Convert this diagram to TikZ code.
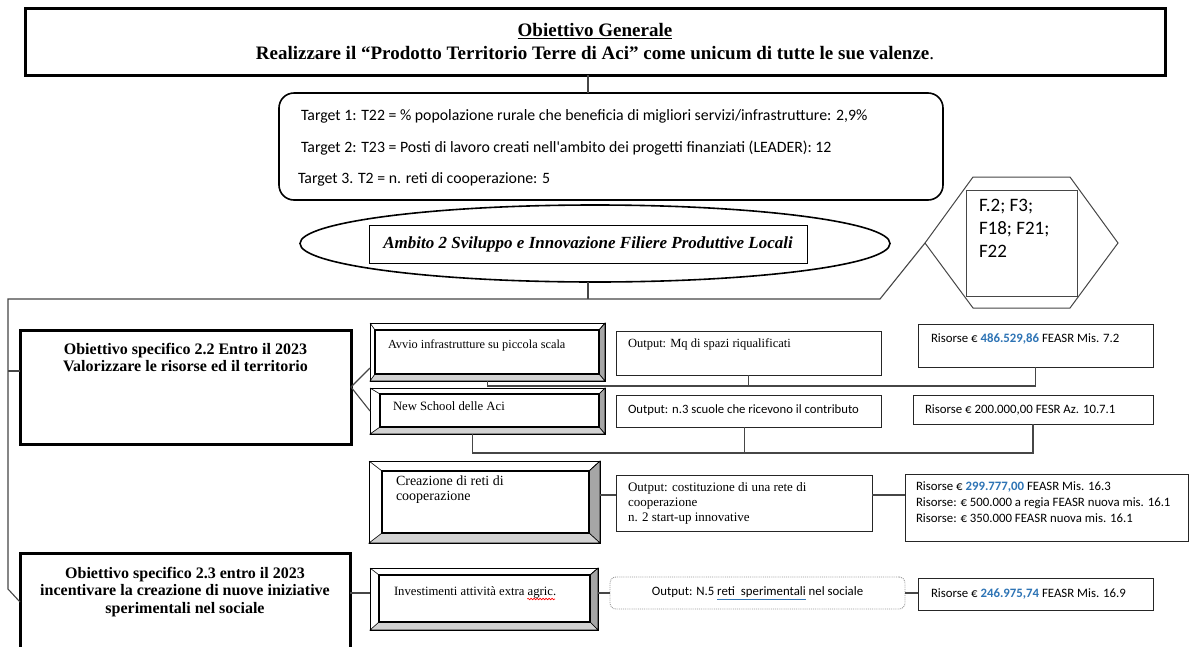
\documentclass[tikz,border=0pt]{standalone}
\usepackage{fontspec}
\setmainfont{Liberation Serif}
\newfontfamily\calibri{Carlito}[Ligatures=TeXOff]
\usetikzlibrary{shapes.geometric,decorations.pathmorphing}

\definecolor{accblue}{RGB}{46,116,181}
\definecolor{linegray}{RGB}{70,70,70}

\tikzset{
  every node/.style={outer sep=0pt},
  mainbox/.style={draw=black, line width=3pt, fill=white, inner sep=0pt},
  thinbox/.style={draw=black!85, line width=1pt, fill=white, inner sep=0pt},
  bevelbox/.style={draw=black, line width=1pt, fill=white, inner sep=0pt},
  link/.style={draw=linegray, line width=1.1pt},
  tms/.style={font=\fontsize{12.5}{15}\selectfont, inner sep=0pt, anchor=west, align=left},
  cal/.style={font=\calibri\fontsize{12.8}{16}\selectfont, inner sep=0pt, anchor=west, align=left},
  obtext/.style={font=\bfseries\fontsize{16}{17.5}\selectfont, inner sep=0pt, anchor=north, align=center},
}

% bevel faces of a box: node, left, top, right, bottom
\newcommand{\bevel}[5]{%
  \coordinate (#1-a) at ([xshift=#2,yshift=-#3]#1.north west);
  \coordinate (#1-b) at ([xshift=-#4,yshift=-#3]#1.north east);
  \coordinate (#1-c) at ([xshift=-#4,yshift=#5]#1.south east);
  \coordinate (#1-d) at ([xshift=#2,yshift=#5]#1.south west);
  \filldraw[fill=gray!70, line width=0.6pt] (#1.north east) -- (#1.south east) -- (#1-c) -- (#1-b) -- cycle;
  \filldraw[fill=gray!35, line width=0.6pt] (#1.south west) -- (#1.south east) -- (#1-c) -- (#1-d) -- cycle;
  \draw[line width=0.6pt] (#1.north west) -- (#1-a) (#1.north east) -- (#1-b);
  \draw[line width=1.8pt] (#1-a) rectangle (#1-c);
  \draw[line width=1pt] (#1.north west) rectangle (#1.south east);
}

\begin{document}
\begin{tikzpicture}[x=1pt,y=-1pt]
  \useasboundingbox (0,0) rectangle (1192,646);
  \fill[white] (0,0) rectangle (1192,646);

  % Obiettivo generale
  \node[mainbox, minimum width=1140pt, minimum height=67pt, align=center,
        font=\bfseries\fontsize{19}{23}\selectfont] (goal) at (595,41.5)
    {\underline{Obiettivo Generale}\\Realizzare il “Prodotto Territorio Terre di Aci” come unicum di tutte le sue valenze{\mdseries .}};

  %% Target
  \node[draw, line width=1.6pt, rounded corners=15pt, minimum width=664pt, minimum height=107pt] (tgt) at (611,146.5) {};
  \node[cal, font=\calibri\fontsize{15.8}{18}\selectfont] (tgt1) at (301,116) {Target 1: T22 = \% popolazione rurale che beneficia di migliori servizi/infrastrutture: 2,9\%};
  \node[cal, font=\calibri\fontsize{15.8}{18}\selectfont] (tgt2) at (301,148) {Target 2: T23 = Posti di lavoro creati nell'ambito dei progetti finanziati (LEADER): 12};
  \node[cal, font=\calibri\fontsize{15.8}{18}\selectfont] (tgt3) at (298,179) {Target 3. T2 = n. reti di cooperazione: 5};

  %% Ambito
  \node[draw, ellipse, line width=1.6pt, minimum width=590pt, minimum height=77pt] (amb) at (595,243.5) {};
  \node[draw, line width=0.8pt, minimum width=438pt, minimum height=38pt,
        font=\bfseries\itshape\fontsize{17}{18}\selectfont] (ambito) at (588,244)
    {Ambito 2 Sviluppo e Innovazione Filiere Produttive Locali};

  %% Fabbisogni
  \coordinate (hexW) at (925,243);
  \draw[linegray, line width=1pt] (hexW) -- (973,177) -- (1070,177) -- (1118,243) -- (1070,308) -- (973,308) -- cycle;
  \node[draw=linegray, line width=1pt, fill=white, minimum width=111pt, minimum height=106pt] (fbox) at (1021.5,243) {};
  \node[cal, anchor=north west, font=\calibri\fontsize{19}{23}\selectfont] (ftext) at (979,199) {F.2; F3;\\F18; F21;\\F22};

  % Obiettivi specifici
  \node[mainbox, minimum width=331pt, minimum height=114pt] (ob22) at (185.5,387) {};
  \node[obtext] (ob22t) at (185.5,343) {Obiettivo specifico 2.2 Entro il 2023\\Valorizzare le risorse ed il territorio};
  \node[mainbox, minimum width=330pt, minimum height=107pt] (ob23) at (185,606.5) {};
  \node[obtext] (ob23t) at (185,567) {Obiettivo specifico 2.3 entro il 2023\\incentivare la creazione di nuove iniziative\\sperimentali nel sociale};

  %% Azioni
  \node[bevelbox, minimum width=235pt, minimum height=58pt] (avvio) at (487.5,352) {};
  \bevel{avvio}{5pt}{7pt}{6pt}{7pt}
  \node[tms, font=\fontsize{12.3}{14}\selectfont] (avvioT) at (388,345) {Avvio infrastrutture su piccola scala};

  \node[bevelbox, minimum width=235pt, minimum height=46pt] (school) at (487.5,411) {};
  \bevel{school}{10pt}{6pt}{6pt}{7pt}
  \node[tms, font=\fontsize{12.7}{14}\selectfont] (schoolT) at (393,406) {New School delle Aci};

  \node[bevelbox, minimum width=231pt, minimum height=82pt] (creaz) at (484.5,502) {};
  \bevel{creaz}{13pt}{10pt}{11pt}{10pt}
  \node[tms, anchor=north west, font=\fontsize{14}{15}\selectfont] (creazT) at (396,476) {Creazione di reti di\\cooperazione};

  \node[bevelbox, minimum width=228pt, minimum height=62pt] (invest) at (484,599) {};
  \bevel{invest}{9pt}{7pt}{8pt}{8pt}
  \node[tms, font=\fontsize{12.7}{14}\selectfont] (investT) at (394,592) {Investimenti attività extra agric.};
  \draw[red, line width=0.6pt, decorate, decoration={snake, amplitude=0.8pt, segment length=3pt}]
    ([xshift=-29pt,yshift=-7pt]investT.east) -- ([xshift=-1pt,yshift=-7pt]investT.east);

  %% Output
  \node[thinbox, minimum width=265pt, minimum height=44pt] (out1) at (748.5,353) {};
  \node[tms] (out1T) at (628,344) {Output: Mq di spazi riqualificati};
  \node[thinbox, minimum width=265pt, minimum height=32pt] (out2) at (748.5,411) {};
  \node[cal, font=\calibri\fontsize{12.7}{14}\selectfont] (out2T) at (628,410) {Output: n.3 scuole che ricevono il contributo};
  \node[thinbox, minimum width=256pt, minimum height=56pt] (out3) at (744,503) {};
  \node[tms, anchor=north west, font=\fontsize{13}{15}\selectfont] (out3T) at (628,482) {Output: costituzione di una rete di\\cooperazione\\n. 2 start-up innovative};
  \node[draw=gray!80, densely dotted, line width=0.9pt, rounded corners=6pt, minimum width=295pt, minimum height=32pt,
        font=\calibri\fontsize{12.8}{14}\selectfont] (out4) at (757.5,593)
    {Output: N.5 {\color{accblue}\underline{\color{black}reti\hspace{6pt}sperimentali}} nel sociale};

  %% Risorse
  \node[thinbox, minimum width=235pt, minimum height=43pt] (ris1) at (1035.5,345.5) {};
  \node[cal] (ris1T) at (931,339) {Risorse € \textcolor{accblue}{\bfseries 486.529,86} FEASR Mis. 7.2};
  \node[thinbox, minimum width=240pt, minimum height=29pt] (ris2) at (1033,409.5) {};
  \node[cal] (ris2T) at (925,410) {Risorse € 200.000,00 FESR Az. 10.7.1};
  \node[thinbox, minimum width=283pt, minimum height=67pt] (ris3) at (1046.5,507.5) {};
  \node[cal, anchor=north west, font=\calibri\fontsize{12.8}{16}\selectfont] (ris3T) at (916,482)
    {Risorse € \textcolor{accblue}{\bfseries 299.777,00} FEASR Mis. 16.3\\Risorse: € 500.000 a regia FEASR nuova mis. 16.1\\Risorse: € 350.000 FEASR nuova mis. 16.1};
  \node[thinbox, minimum width=235pt, minimum height=32pt] (ris4) at (1035.5,594) {};
  \node[cal] (ris4T) at (931,594) {Risorse € \textcolor{accblue}{\bfseries 246.975,74} FEASR Mis. 16.9};

  % Collegamenti
  \draw[link] (goal.south -| ambito) -- (tgt.north -| ambito);
  \coordinate (busR) at (880,299);
  \coordinate (busL) at (8,299);
  \coordinate (kink) at (8,589);
  \draw[link] (ambito |- amb.south) -- (ambito |- busL);
  \draw[link] (hexW) -- (busR) -- (busL) -- (kink) -- ([yshift=-49pt]ob23.north west);
  \draw[link] ([yshift=16pt]ob22.west) -- ++(-12,0);
  \draw[link] (ob22.east) -- ([yshift=-16pt]avvio.west);
  \draw[link] (ob22.east) -- (school.west);

  \coordinate (row1) at (0,386);
  \coordinate (row2) at (0,453);
  \coordinate (row3) at (0,495);
  \coordinate (row4) at (0,593);
  \draw[link] (avvio.south) |- (row1 -| ris1.south) -- (ris1.south);
  \draw[link] (out1.south) -- (out1.south |- row1);
  \draw[link] ([xshift=-15pt]school.south) |- (row2 -| ris2.south) -- (ris2.south);
  \draw[link] ([xshift=-4pt]out2.south) -- ([xshift=-4pt]out2.south |- row2);
  \draw[link] (creaz.east |- row3) -- (out3.west |- row3);
  \draw[link] (out3.east |- row3) -- (ris3.west |- row3);
  \draw[link] (ob23.east |- row4) -- (invest.west |- row4);
  \draw[link] (invest.east |- row4) -- (out4.west |- row4);
  \draw[link] (out4.east |- row4) -- (ris4.west |- row4);
\end{tikzpicture}
\end{document}
